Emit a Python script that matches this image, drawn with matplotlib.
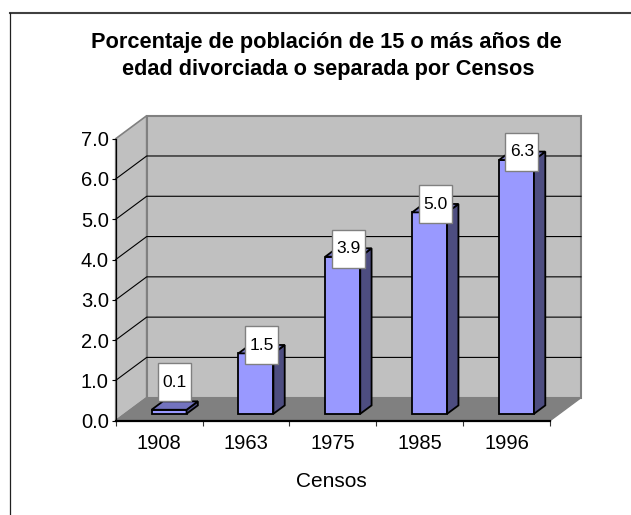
import matplotlib
matplotlib.use("Agg")
import matplotlib.pyplot as plt
from matplotlib.lines import Line2D
from matplotlib.patches import Polygon, Rectangle

plt.rcParams['font.family'] = ['Liberation Sans', 'DejaVu Sans']

censos = ["1908", "1963", "1975", "1985", "1996"]
valores = [0.1, 1.5, 3.9, 5.0, 6.3]
etiquetas = ["0.1", "1.5", "3.9", "5.0", "6.3"]
y_ticks = [0, 1, 2, 3, 4, 5, 6, 7]

W, H = 631, 515
# front plane of the chart box, in pixels
X0, X1, Y0, Y1 = 115.7, 550.0, 420.7, 138.7
# oblique depth of the box, in data units
DX = 31 / ((X1 - X0) / 5)
DY = 23 / ((Y0 - Y1) / 7)

def pt(x, y, d=0.0):
    # project a point of the 3d box, d = 0 front, d = 1 back
    return (x + DX * d, y + DY * d)

fig = plt.figure(figsize=(W / 100, H / 100), dpi=100)
ax = fig.add_axes([X0 / W, 1 - Y0 / H, (X1 - X0) / W, (Y0 - Y1) / H])
ax.set_xlim(0, 5)
ax.set_ylim(0, 7)
ax.patch.set_visible(False)

# outer chart border, only top and left are in the picture
fig.add_artist(Line2D([9.5 / W, 1], [1 - 13 / H, 1 - 13 / H], color="#404040", lw=1.5))
fig.add_artist(Line2D([9.5 / W, 9.5 / W], [0, 1 - 13 / H], color="#202020", lw=0.9))

wall = "#c0c0c0"
edge = "#808080"
poly = lambda pts, **kw: ax.add_patch(Polygon(pts, closed=True, clip_on=False, **kw))

poly([pt(0, 0), pt(0, 0, 1), pt(0, 7, 1), pt(0, 7)], fc=wall, ec=edge, lw=1.2, zorder=1)
poly([pt(0, 0, 1), pt(5, 0, 1), pt(5, 7, 1), pt(0, 7, 1)], fc=wall, ec=edge, lw=1.5, zorder=1)
poly([pt(0, 0), pt(5, 0), pt(5, 0, 1), pt(0, 0, 1)], fc="#808080", ec=edge, lw=1, zorder=1)

for v in y_ticks[1:-1]:
    ax.plot([pt(0, v)[0], pt(0, v, 1)[0], pt(5, v, 1)[0]],
            [pt(0, v)[1], pt(0, v, 1)[1], pt(5, v, 1)[1]],
            color="black", lw=0.8, clip_on=False, zorder=2)

ANCHO = 35 / ((X1 - X0) / 5)
D1, D2 = 0.30, 0.665
CAJA_W = 33 / ((X1 - X0) / 5)
CAJA_H = 38 / ((Y0 - Y1) / 7)
for i, v in enumerate(valores):
    c = i + 0.5 + 0.007
    a, b = c - ANCHO / 2, c + ANCHO / 2
    lw = 1.3
    poly([pt(a, 0, D1), pt(b, 0, D1), pt(b, v, D1), pt(a, v, D1)], fc="#9999ff", ec="black", lw=lw, joinstyle="miter", zorder=3)
    poly([pt(b, 0, D1), pt(b, 0, D2), pt(b, v, D2), pt(b, v, D1)], fc="#4d4d80", ec="black", lw=lw, joinstyle="miter", zorder=3)
    poly([pt(a, v, D1), pt(b, v, D1), pt(b, v, D2), pt(a, v, D2)], fc="#7373bf", ec="black", lw=lw, joinstyle="miter", zorder=3)
    # data label box sits a little above the bar top, the first one is moved up
    top = pt(c, v, D1)[1]
    cy = top + (0.68 if i == 0 else 0.2)
    cx = pt(c, v, D1)[0] + 0.063
    ax.add_patch(Rectangle((cx - CAJA_W / 2, cy - CAJA_H / 2), CAJA_W, CAJA_H, fc="white", ec="#808080", lw=1, clip_on=False, zorder=4))
    ax.text(cx, cy, etiquetas[i], ha="center", va="center", fontsize=12.5, color="black", zorder=5)

for s in ("top", "right"):
    ax.spines[s].set_visible(False)
ax.spines["left"].set_linewidth(0.9)
ax.spines["bottom"].set_linewidth(1.6)
ax.spines["left"].set_zorder(6)
ax.spines["bottom"].set_zorder(6)

ax.set_yticks(y_ticks)
ax.set_yticklabels([f"{v:.1f}" for v in y_ticks], fontsize=14.5)
ax.set_xticks(range(6))
ax.set_xticklabels([])
ax.set_xticks([i + 0.5 for i in range(5)], minor=True)
ax.set_xticklabels(censos, minor=True, fontsize=14.5)
ax.tick_params(axis="x", which="minor", length=0, pad=9.5)
ax.tick_params(axis="x", which="major", length=3.6, width=0.8, color="#333333")
ax.tick_params(axis="y", length=3, width=0.8, pad=2)
ax.set_xlabel("Censos", fontsize=15, x=(331.7 - X0) / (X1 - X0), labelpad=14)

fig.text(326 / W, 1 - 48.3 / H, "Porcentaje de población de 15 o más años de",
         ha="center", va="baseline", fontsize=15.7, fontweight="bold")
fig.text(328 / W, 1 - 75 / H, "edad divorciada o separada por Censos",
         ha="center", va="baseline", fontsize=15.7, fontweight="bold")

fig.savefig("out.png", dpi=100)
